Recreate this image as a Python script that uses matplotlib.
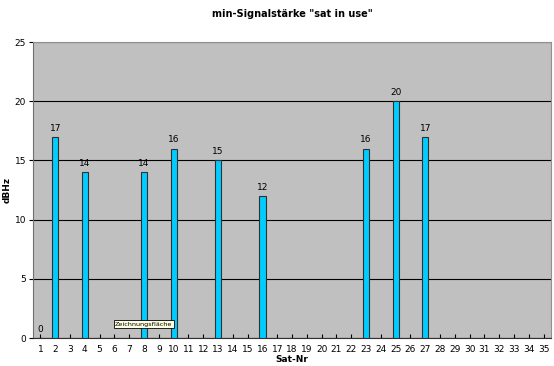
import matplotlib.pyplot as plt

sat_nr = list(range(1, 36))
sats_used = [1, 2, 4, 8, 10, 13, 16, 23, 25, 27]
dbhz = [0, 17, 14, 14, 16, 15, 12, 16, 20, 17]

fig = plt.figure(figsize=(5.54, 3.66), dpi=100)
ax = fig.add_axes([0.0596, 0.0765, 0.935, 0.8085])
ax.set_facecolor('#c0c0c0')

bars = ax.bar(sats_used, dbhz, width=0.42, color='#00ccff', edgecolor='#303030', linewidth=0.8, zorder=3)
for x, v in zip(sats_used, dbhz):
    ax.text(x, v + 0.35, str(v), ha='center', va='bottom', fontsize=6.5, zorder=4)

ax.set_xlim(0.5, 35.5)
ax.set_ylim(0, 25)
ax.set_xticks(sat_nr)
ax.set_xticklabels([str(s) for s in sat_nr])
ax.set_yticks([0, 5, 10, 15, 20, 25])
ax.yaxis.grid(True, color='black', linewidth=0.8, zorder=1)
ax.set_axisbelow(True)
ax.tick_params(labelsize=6.5, length=3, width=0.8, pad=2)
ax.tick_params(axis='x', direction='in', pad=5)

for side in ['top', 'right']:
    ax.spines[side].set_color('#909090')
ax.spines['left'].set_color('#707070')
ax.spines['bottom'].set_color('#303030')

ax.set_title('min-Signalstärke "sat in use"', fontsize=7, fontweight='bold', y=1.0, pad=18)
ax.set_xlabel('Sat-Nr', fontsize=6.5, fontweight='bold')
ax.xaxis.set_label_coords(0.5, -0.058)
ax.set_ylabel('dBHz', fontsize=6.5, fontweight='bold')
ax.yaxis.set_label_coords(-0.042, 0.5)

# Excel tooltip
ax.text(6.05, 1.05, 'Zeichnungsfläche', fontsize=4.6, zorder=5,
        bbox=dict(boxstyle='square,pad=0.25', facecolor='#ffffe1', edgecolor='black', linewidth=0.6))

plt.savefig('out.png', dpi=100)
plt.close()
